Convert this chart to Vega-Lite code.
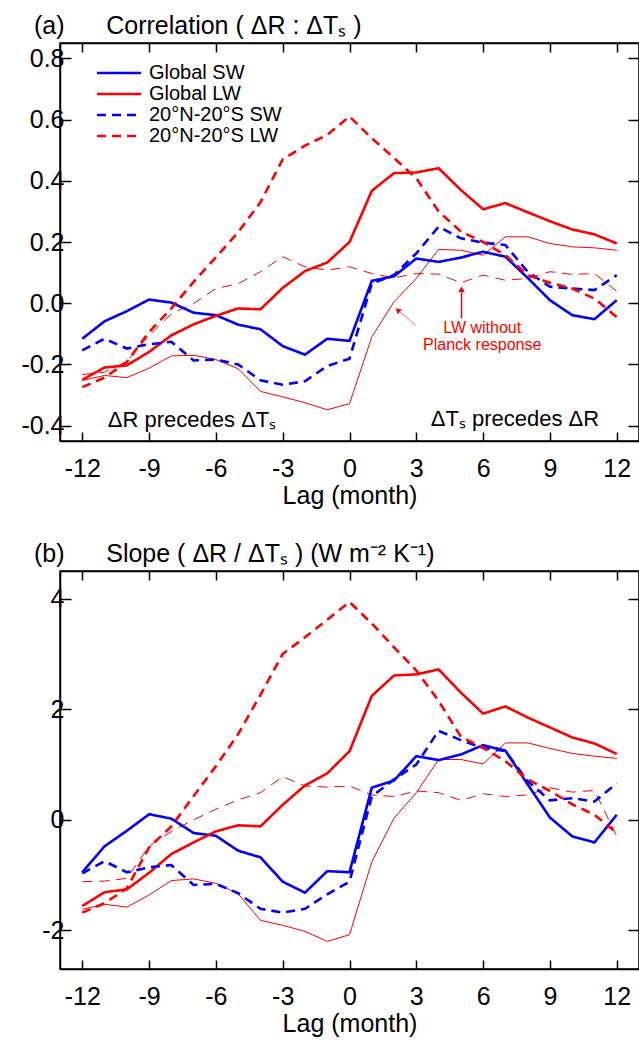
{
  "$schema": "https://vega.github.io/schema/vega-lite/v6.json",
  "padding": {"top": 13, "left": 20, "right": 0, "bottom": 0},
  "spacing": 32,
  "config": {
    "font": "Liberation Sans",
    "view": {"stroke": "black", "strokeWidth": 1.5},
    "locale": {"number": {"decimal": ".", "thousands": ",", "grouping": [3], "currency": ["$", ""], "minus": "-"}},
    "axis": {"domainColor": "black", "domainWidth": 1.5, "tickColor": "black", "tickWidth": 1.5, "grid": false, "labelFont": "Liberation Sans", "labelFontSize": 25, "labelColor": "black", "titleFont": "Liberation Sans", "titleFontSize": 25, "titleFontWeight": "normal", "titleColor": "black", "labelOverlap": false, "labelFlush": false},
    "title": {"font": "Liberation Sans", "fontSize": 25, "fontWeight": "normal", "color": "black", "anchor": "start", "frame": "group", "dx": -26, "offset": 3}
  },
  "datasets": {
    "lines": [
      {"lag": -12, "series": "Global SW", "corr": -0.116, "slope": -0.95},
      {"lag": -11, "series": "Global SW", "corr": -0.059, "slope": -0.48},
      {"lag": -10, "series": "Global SW", "corr": -0.026, "slope": -0.2},
      {"lag": -9, "series": "Global SW", "corr": 0.012, "slope": 0.1},
      {"lag": -8, "series": "Global SW", "corr": 0.002, "slope": 0.02},
      {"lag": -7, "series": "Global SW", "corr": -0.031, "slope": -0.24},
      {"lag": -6, "series": "Global SW", "corr": -0.039, "slope": -0.29},
      {"lag": -5, "series": "Global SW", "corr": -0.07, "slope": -0.56},
      {"lag": -4, "series": "Global SW", "corr": -0.085, "slope": -0.68},
      {"lag": -3, "series": "Global SW", "corr": -0.14, "slope": -1.12},
      {"lag": -2, "series": "Global SW", "corr": -0.168, "slope": -1.32},
      {"lag": -1, "series": "Global SW", "corr": -0.116, "slope": -0.93},
      {"lag": 0, "series": "Global SW", "corr": -0.123, "slope": -0.95},
      {"lag": 1, "series": "Global SW", "corr": 0.073, "slope": 0.58},
      {"lag": 2, "series": "Global SW", "corr": 0.088, "slope": 0.71},
      {"lag": 3, "series": "Global SW", "corr": 0.146, "slope": 1.15},
      {"lag": 4, "series": "Global SW", "corr": 0.135, "slope": 1.08},
      {"lag": 5, "series": "Global SW", "corr": 0.149, "slope": 1.18},
      {"lag": 6, "series": "Global SW", "corr": 0.168, "slope": 1.35},
      {"lag": 7, "series": "Global SW", "corr": 0.152, "slope": 1.25},
      {"lag": 8, "series": "Global SW", "corr": 0.083, "slope": 0.64},
      {"lag": 9, "series": "Global SW", "corr": 0.01, "slope": 0.04},
      {"lag": 10, "series": "Global SW", "corr": -0.039, "slope": -0.3},
      {"lag": 11, "series": "Global SW", "corr": -0.052, "slope": -0.41},
      {"lag": 12, "series": "Global SW", "corr": 0.01, "slope": 0.09},

      {"lag": -12, "series": "Global LW", "corr": -0.25, "slope": -1.56},
      {"lag": -11, "series": "Global LW", "corr": -0.21, "slope": -1.31},
      {"lag": -10, "series": "Global LW", "corr": -0.203, "slope": -1.26},
      {"lag": -9, "series": "Global LW", "corr": -0.159, "slope": -0.96},
      {"lag": -8, "series": "Global LW", "corr": -0.105, "slope": -0.62},
      {"lag": -7, "series": "Global LW", "corr": -0.069, "slope": -0.41},
      {"lag": -6, "series": "Global LW", "corr": -0.041, "slope": -0.21},
      {"lag": -5, "series": "Global LW", "corr": -0.017, "slope": -0.1},
      {"lag": -4, "series": "Global LW", "corr": -0.02, "slope": -0.12},
      {"lag": -3, "series": "Global LW", "corr": 0.05, "slope": 0.27},
      {"lag": -2, "series": "Global LW", "corr": 0.105, "slope": 0.62},
      {"lag": -1, "series": "Global LW", "corr": 0.133, "slope": 0.84},
      {"lag": 0, "series": "Global LW", "corr": 0.2, "slope": 1.24},
      {"lag": 1, "series": "Global LW", "corr": 0.367, "slope": 2.24},
      {"lag": 2, "series": "Global LW", "corr": 0.425, "slope": 2.61},
      {"lag": 3, "series": "Global LW", "corr": 0.427, "slope": 2.63},
      {"lag": 4, "series": "Global LW", "corr": 0.441, "slope": 2.72},
      {"lag": 5, "series": "Global LW", "corr": 0.37, "slope": 2.3},
      {"lag": 6, "series": "Global LW", "corr": 0.307, "slope": 1.92},
      {"lag": 7, "series": "Global LW", "corr": 0.327, "slope": 2.05},
      {"lag": 8, "series": "Global LW", "corr": 0.297, "slope": 1.85},
      {"lag": 9, "series": "Global LW", "corr": 0.268, "slope": 1.67},
      {"lag": 10, "series": "Global LW", "corr": 0.241, "slope": 1.49},
      {"lag": 11, "series": "Global LW", "corr": 0.225, "slope": 1.38},
      {"lag": 12, "series": "Global LW", "corr": 0.195, "slope": 1.19},

      {"lag": -12, "series": "20°N-20°S SW", "corr": -0.154, "slope": -0.97},
      {"lag": -11, "series": "20°N-20°S SW", "corr": -0.116, "slope": -0.75},
      {"lag": -10, "series": "20°N-20°S SW", "corr": -0.148, "slope": -0.95},
      {"lag": -9, "series": "20°N-20°S SW", "corr": -0.134, "slope": -0.86},
      {"lag": -8, "series": "20°N-20°S SW", "corr": -0.126, "slope": -0.82},
      {"lag": -7, "series": "20°N-20°S SW", "corr": -0.187, "slope": -1.18},
      {"lag": -6, "series": "20°N-20°S SW", "corr": -0.184, "slope": -1.16},
      {"lag": -5, "series": "20°N-20°S SW", "corr": -0.2, "slope": -1.33},
      {"lag": -4, "series": "20°N-20°S SW", "corr": -0.252, "slope": -1.61},
      {"lag": -3, "series": "20°N-20°S SW", "corr": -0.266, "slope": -1.68},
      {"lag": -2, "series": "20°N-20°S SW", "corr": -0.255, "slope": -1.61},
      {"lag": -1, "series": "20°N-20°S SW", "corr": -0.205, "slope": -1.35},
      {"lag": 0, "series": "20°N-20°S SW", "corr": -0.181, "slope": -1.12},
      {"lag": 1, "series": "20°N-20°S SW", "corr": 0.064, "slope": 0.42},
      {"lag": 2, "series": "20°N-20°S SW", "corr": 0.092, "slope": 0.73},
      {"lag": 3, "series": "20°N-20°S SW", "corr": 0.163, "slope": 1.0},
      {"lag": 4, "series": "20°N-20°S SW", "corr": 0.25, "slope": 1.61},
      {"lag": 5, "series": "20°N-20°S SW", "corr": 0.212, "slope": 1.44},
      {"lag": 6, "series": "20°N-20°S SW", "corr": 0.198, "slope": 1.3},
      {"lag": 7, "series": "20°N-20°S SW", "corr": 0.19, "slope": 1.24},
      {"lag": 8, "series": "20°N-20°S SW", "corr": 0.103, "slope": 0.7},
      {"lag": 9, "series": "20°N-20°S SW", "corr": 0.054, "slope": 0.35},
      {"lag": 10, "series": "20°N-20°S SW", "corr": 0.048, "slope": 0.39},
      {"lag": 11, "series": "20°N-20°S SW", "corr": 0.043, "slope": 0.33},
      {"lag": 12, "series": "20°N-20°S SW", "corr": 0.092, "slope": 0.66},

      {"lag": -12, "series": "20°N-20°S LW", "corr": -0.274, "slope": -1.68},
      {"lag": -11, "series": "20°N-20°S LW", "corr": -0.243, "slope": -1.51},
      {"lag": -10, "series": "20°N-20°S LW", "corr": -0.192, "slope": -1.24},
      {"lag": -9, "series": "20°N-20°S LW", "corr": -0.094, "slope": -0.5},
      {"lag": -8, "series": "20°N-20°S LW", "corr": -0.017, "slope": -0.12},
      {"lag": -7, "series": "20°N-20°S LW", "corr": 0.07, "slope": 0.43},
      {"lag": -6, "series": "20°N-20°S LW", "corr": 0.15, "slope": 0.97},
      {"lag": -5, "series": "20°N-20°S LW", "corr": 0.232, "slope": 1.55},
      {"lag": -4, "series": "20°N-20°S LW", "corr": 0.33, "slope": 2.26},
      {"lag": -3, "series": "20°N-20°S LW", "corr": 0.47, "slope": 3.0},
      {"lag": -2, "series": "20°N-20°S LW", "corr": 0.515, "slope": 3.3},
      {"lag": -1, "series": "20°N-20°S LW", "corr": 0.55, "slope": 3.62},
      {"lag": 0, "series": "20°N-20°S LW", "corr": 0.61, "slope": 3.94},
      {"lag": 1, "series": "20°N-20°S LW", "corr": 0.539, "slope": 3.55},
      {"lag": 2, "series": "20°N-20°S LW", "corr": 0.474, "slope": 3.12},
      {"lag": 3, "series": "20°N-20°S LW", "corr": 0.408, "slope": 2.7},
      {"lag": 4, "series": "20°N-20°S LW", "corr": 0.3, "slope": 2.15},
      {"lag": 5, "series": "20°N-20°S LW", "corr": 0.234, "slope": 1.5},
      {"lag": 6, "series": "20°N-20°S LW", "corr": 0.2, "slope": 1.3},
      {"lag": 7, "series": "20°N-20°S LW", "corr": 0.157, "slope": 1.06},
      {"lag": 8, "series": "20°N-20°S LW", "corr": 0.092, "slope": 0.73},
      {"lag": 9, "series": "20°N-20°S LW", "corr": 0.067, "slope": 0.52},
      {"lag": 10, "series": "20°N-20°S LW", "corr": 0.048, "slope": 0.28},
      {"lag": 11, "series": "20°N-20°S LW", "corr": 0.015, "slope": 0.09},
      {"lag": 12, "series": "20°N-20°S LW", "corr": -0.045, "slope": -0.24},

      {"lag": -12, "series": "Global LW no Planck", "corr": -0.252, "slope": -1.62},
      {"lag": -11, "series": "Global LW no Planck", "corr": -0.236, "slope": -1.53},
      {"lag": -10, "series": "Global LW no Planck", "corr": -0.243, "slope": -1.58},
      {"lag": -9, "series": "Global LW no Planck", "corr": -0.212, "slope": -1.36},
      {"lag": -8, "series": "Global LW no Planck", "corr": -0.172, "slope": -1.1},
      {"lag": -7, "series": "Global LW no Planck", "corr": -0.17, "slope": -1.07},
      {"lag": -6, "series": "Global LW no Planck", "corr": -0.184, "slope": -1.15},
      {"lag": -5, "series": "Global LW no Planck", "corr": -0.214, "slope": -1.34},
      {"lag": -4, "series": "Global LW no Planck", "corr": -0.288, "slope": -1.82},
      {"lag": -3, "series": "Global LW no Planck", "corr": -0.306, "slope": -1.91},
      {"lag": -2, "series": "Global LW no Planck", "corr": -0.325, "slope": -2.02},
      {"lag": -1, "series": "Global LW no Planck", "corr": -0.348, "slope": -2.2},
      {"lag": 0, "series": "Global LW no Planck", "corr": -0.328, "slope": -2.08},
      {"lag": 1, "series": "Global LW no Planck", "corr": -0.11, "slope": -0.76},
      {"lag": 2, "series": "Global LW no Planck", "corr": 0.005, "slope": 0.03},
      {"lag": 3, "series": "Global LW no Planck", "corr": 0.081, "slope": 0.49},
      {"lag": 4, "series": "Global LW no Planck", "corr": 0.176, "slope": 1.09},
      {"lag": 5, "series": "Global LW no Planck", "corr": 0.173, "slope": 1.09},
      {"lag": 6, "series": "Global LW no Planck", "corr": 0.157, "slope": 1.01},
      {"lag": 7, "series": "Global LW no Planck", "corr": 0.217, "slope": 1.39},
      {"lag": 8, "series": "Global LW no Planck", "corr": 0.217, "slope": 1.39},
      {"lag": 9, "series": "Global LW no Planck", "corr": 0.195, "slope": 1.29},
      {"lag": 10, "series": "Global LW no Planck", "corr": 0.184, "slope": 1.2},
      {"lag": 11, "series": "Global LW no Planck", "corr": 0.181, "slope": 1.15},
      {"lag": 12, "series": "Global LW no Planck", "corr": 0.173, "slope": 1.11},

      {"lag": -12, "series": "20°N-20°S LW no Planck", "corr": -0.233, "slope": -1.12},
      {"lag": -11, "series": "20°N-20°S LW no Planck", "corr": -0.225, "slope": -1.11},
      {"lag": -10, "series": "20°N-20°S LW no Planck", "corr": -0.19, "slope": -1.06},
      {"lag": -9, "series": "20°N-20°S LW no Planck", "corr": -0.105, "slope": -0.48},
      {"lag": -8, "series": "20°N-20°S LW no Planck", "corr": -0.034, "slope": -0.21},
      {"lag": -7, "series": "20°N-20°S LW no Planck", "corr": -0.001, "slope": 0.0},
      {"lag": -6, "series": "20°N-20°S LW no Planck", "corr": 0.048, "slope": 0.19},
      {"lag": -5, "series": "20°N-20°S LW no Planck", "corr": 0.064, "slope": 0.36},
      {"lag": -4, "series": "20°N-20°S LW no Planck", "corr": 0.103, "slope": 0.49},
      {"lag": -3, "series": "20°N-20°S LW no Planck", "corr": 0.152, "slope": 0.78},
      {"lag": -2, "series": "20°N-20°S LW no Planck", "corr": 0.119, "slope": 0.61},
      {"lag": -1, "series": "20°N-20°S LW no Planck", "corr": 0.108, "slope": 0.59},
      {"lag": 0, "series": "20°N-20°S LW no Planck", "corr": 0.119, "slope": 0.61},
      {"lag": 1, "series": "20°N-20°S LW no Planck", "corr": 0.097, "slope": 0.45},
      {"lag": 2, "series": "20°N-20°S LW no Planck", "corr": 0.083, "slope": 0.42},
      {"lag": 3, "series": "20°N-20°S LW no Planck", "corr": 0.097, "slope": 0.52},
      {"lag": 4, "series": "20°N-20°S LW no Planck", "corr": 0.095, "slope": 0.49},
      {"lag": 5, "series": "20°N-20°S LW no Planck", "corr": 0.067, "slope": 0.35},
      {"lag": 6, "series": "20°N-20°S LW no Planck", "corr": 0.092, "slope": 0.47},
      {"lag": 7, "series": "20°N-20°S LW no Planck", "corr": 0.075, "slope": 0.42},
      {"lag": 8, "series": "20°N-20°S LW no Planck", "corr": 0.081, "slope": 0.45},
      {"lag": 9, "series": "20°N-20°S LW no Planck", "corr": 0.103, "slope": 0.58},
      {"lag": 10, "series": "20°N-20°S LW no Planck", "corr": 0.094, "slope": 0.5},
      {"lag": 11, "series": "20°N-20°S LW no Planck", "corr": 0.097, "slope": 0.53},
      {"lag": 12, "series": "20°N-20°S LW no Planck", "corr": 0.039, "slope": -0.3}
    ]
  },
  "resolve": {"scale": {"color": "independent", "strokeDash": "independent"}, "legend": {"color": "independent", "strokeDash": "independent"}},
  "vconcat": [
    {
      "width": 579,
      "height": 398,
      "title": {"text": "(a)\u00a0\u00a0\u00a0\u00a0\u00a0\u00a0Correlation ( ΔR : ΔTₛ )"},
      "layer": [
        {
          "mark": {"type": "rule", "color": "#808080", "strokeDash": [2, 3], "strokeWidth": 1.3},
          "encoding": {"y": {"datum": 0, "type": "quantitative", "scale": {"domain": [-0.45, 0.85], "nice": false, "zero": false}, "axis": {"orient": "right", "values": [-0.4, -0.2, 0, 0.2, 0.4, 0.6, 0.8], "labels": false, "tickSize": -11, "title": null}}}
        },
        {
          "mark": {"type": "rule", "color": "#808080", "strokeDash": [2, 3], "strokeWidth": 1.3},
          "encoding": {"x": {"datum": 0, "type": "quantitative", "scale": {"domain": [-13, 13], "nice": false, "zero": false}, "axis": {"orient": "top", "values": [-12, -9, -6, -3, 0, 3, 6, 9, 12], "labels": false, "tickSize": -9, "title": null}}}
        },
        {
          "data": {"name": "lines"},
          "transform": [{"filter": "datum.series == 'Global LW no Planck'"}],
          "mark": {"type": "line", "color": "#ff0000", "strokeWidth": 1},
          "encoding": {
            "x": {"field": "lag", "type": "quantitative", "scale": {"domain": [-13, 13], "nice": false, "zero": false}, "axis": null},
            "y": {"field": "corr", "type": "quantitative", "scale": {"domain": [-0.45, 0.85], "nice": false, "zero": false}, "axis": null}
          }
        },
        {
          "data": {"name": "lines"},
          "transform": [{"filter": "datum.series == '20°N-20°S LW no Planck'"}],
          "mark": {"type": "line", "color": "#ff0000", "strokeWidth": 1, "strokeDash": [10, 7]},
          "encoding": {
            "x": {"field": "lag", "type": "quantitative", "scale": {"domain": [-13, 13], "nice": false, "zero": false}, "axis": null},
            "y": {"field": "corr", "type": "quantitative", "scale": {"domain": [-0.45, 0.85], "nice": false, "zero": false}, "axis": null}
          }
        },
        {
          "data": {"name": "lines"},
          "transform": [{"filter": {"field": "series", "oneOf": ["Global SW", "Global LW", "20°N-20°S SW", "20°N-20°S LW"]}}],
          "mark": {"type": "line", "strokeWidth": 2.6},
          "encoding": {
            "x": {"field": "lag", "type": "quantitative", "scale": {"domain": [-13, 13], "nice": false, "zero": false}, "axis": {"orient": "bottom", "values": [-12, -9, -6, -3, 0, 3, 6, 9, 12], "tickSize": -9, "labelPadding": 24, "title": "Lag (month)", "titlePadding": 2}},
            "y": {"field": "corr", "type": "quantitative", "scale": {"domain": [-0.45, 0.85], "nice": false, "zero": false}, "axis": {"orient": "left", "values": [-0.4, -0.2, 0, 0.2, 0.4, 0.6, 0.8], "format": ".1f", "tickSize": -11, "labelPadding": 7, "title": null}},
            "color": {"field": "series", "type": "nominal", "scale": {"domain": ["Global SW", "Global LW", "20°N-20°S SW", "20°N-20°S LW"], "range": ["#0000ff", "#ff0000", "#0000ff", "#ff0000"]},
              "legend": {"orient": "none", "legendX": 49, "legendY": 20, "title": null, "symbolType": "M-4.4,0L4.4,0", "symbolSize": 100, "symbolStrokeWidth": 2.5, "labelFontSize": 20, "labelFont": "Liberation Sans", "labelColor": "black", "rowPadding": 1, "padding": 0, "labelOffset": 20}},
            "strokeDash": {"field": "series", "type": "nominal", "scale": {"domain": ["Global SW", "Global LW", "20°N-20°S SW", "20°N-20°S LW"], "range": [[1, 0], [1, 0], [9, 6], [9, 6]]},
              "legend": {"orient": "none", "legendX": 49, "legendY": 20, "title": null, "symbolType": "M-4.4,0L4.4,0", "symbolSize": 100, "symbolStrokeWidth": 2.5, "labelFontSize": 20, "labelFont": "Liberation Sans", "labelColor": "black", "rowPadding": 1, "padding": 0, "labelOffset": 20}}
          }
        },
        {
          "data": {"values": [
            {"lag": -7.07, "val": -0.404, "label": "ΔR precedes ΔTₛ"},
            {"lag": 7.43, "val": -0.4, "label": "ΔTₛ precedes ΔR"}
          ]},
          "mark": {"type": "text", "fontSize": 22, "color": "black", "align": "center", "baseline": "alphabetic"},
          "encoding": {
            "x": {"field": "lag", "type": "quantitative", "scale": {"domain": [-13, 13], "nice": false, "zero": false}, "axis": null},
            "y": {"field": "val", "type": "quantitative", "scale": {"domain": [-0.45, 0.85], "nice": false, "zero": false}, "axis": null},
            "text": {"field": "label"}
          }
        },
        {
          "data": {"values": [
            {"lag": 5.96, "val": -0.097, "label": "LW without|Planck response"}
          ]},
          "mark": {"type": "text", "fontSize": 16, "color": "#ff0000", "align": "center", "baseline": "alphabetic", "lineBreak": "|", "lineHeight": 17},
          "encoding": {
            "x": {"field": "lag", "type": "quantitative", "scale": {"domain": [-13, 13], "nice": false, "zero": false}, "axis": null},
            "y": {"field": "val", "type": "quantitative", "scale": {"domain": [-0.45, 0.85], "nice": false, "zero": false}, "axis": null},
            "text": {"field": "label"}
          }
        },
        {
          "data": {"values": [{"lag": 5.03, "val": -0.05, "lag2": 5.03, "val2": 0.035}]},
          "mark": {"type": "rule", "color": "#ff0000", "strokeWidth": 1.5},
          "encoding": {
            "x": {"field": "lag", "type": "quantitative", "scale": {"domain": [-13, 13], "nice": false, "zero": false}, "axis": null},
            "y": {"field": "val", "type": "quantitative", "scale": {"domain": [-0.45, 0.85], "nice": false, "zero": false}, "axis": null},
            "x2": {"field": "lag2"},
            "y2": {"field": "val2"}
          }
        },
        {
          "data": {"values": [{"lag": 5.03, "val": 0.045}]},
          "mark": {"type": "point", "shape": "triangle-up", "filled": true, "color": "#ff0000", "size": 45, "opacity": 1},
          "encoding": {
            "x": {"field": "lag", "type": "quantitative", "scale": {"domain": [-13, 13], "nice": false, "zero": false}, "axis": null},
            "y": {"field": "val", "type": "quantitative", "scale": {"domain": [-0.45, 0.85], "nice": false, "zero": false}, "axis": null}
          }
        },
        {
          "data": {"values": [{"lag": 2.97, "val": -0.072, "lag2": 2.14, "val2": -0.02}]},
          "mark": {"type": "rule", "color": "#ff0000", "strokeWidth": 0.8, "opacity": 0.7},
          "encoding": {
            "x": {"field": "lag", "type": "quantitative", "scale": {"domain": [-13, 13], "nice": false, "zero": false}, "axis": null},
            "y": {"field": "val", "type": "quantitative", "scale": {"domain": [-0.45, 0.85], "nice": false, "zero": false}, "axis": null},
            "x2": {"field": "lag2"},
            "y2": {"field": "val2"}
          }
        },
        {
          "data": {"values": [{"lag": 2.16, "val": -0.022}]},
          "mark": {"type": "point", "shape": "triangle-up", "filled": true, "color": "#ff0000", "size": 40, "angle": 311, "opacity": 1},
          "encoding": {
            "x": {"field": "lag", "type": "quantitative", "scale": {"domain": [-13, 13], "nice": false, "zero": false}, "axis": null},
            "y": {"field": "val", "type": "quantitative", "scale": {"domain": [-0.45, 0.85], "nice": false, "zero": false}, "axis": null}
          }
        }
      ],
      "resolve": {"axis": {"x": "independent", "y": "independent"}}
    },
    {
      "width": 579,
      "height": 398,
      "title": {"text": "(b)\u00a0\u00a0\u00a0\u00a0\u00a0\u00a0Slope ( ΔR / ΔTₛ ) (W m⁻² K⁻¹)"},
      "layer": [
        {
          "mark": {"type": "rule", "color": "#808080", "strokeDash": [2, 3], "strokeWidth": 1.3},
          "encoding": {"y": {"datum": 0, "type": "quantitative", "scale": {"domain": [-2.7, 4.5], "nice": false, "zero": false}, "axis": {"orient": "right", "values": [-2, 0, 2, 4], "labels": false, "tickSize": -11, "title": null}}}
        },
        {
          "mark": {"type": "rule", "color": "#808080", "strokeDash": [2, 3], "strokeWidth": 1.3},
          "encoding": {"x": {"datum": 0, "type": "quantitative", "scale": {"domain": [-13, 13], "nice": false, "zero": false}, "axis": {"orient": "top", "values": [-12, -9, -6, -3, 0, 3, 6, 9, 12], "labels": false, "tickSize": -9, "title": null}}}
        },
        {
          "data": {"name": "lines"},
          "transform": [{"filter": "datum.series == 'Global LW no Planck'"}],
          "mark": {"type": "line", "color": "#ff0000", "strokeWidth": 1},
          "encoding": {
            "x": {"field": "lag", "type": "quantitative", "scale": {"domain": [-13, 13], "nice": false, "zero": false}, "axis": null},
            "y": {"field": "slope", "type": "quantitative", "scale": {"domain": [-2.7, 4.5], "nice": false, "zero": false}, "axis": null}
          }
        },
        {
          "data": {"name": "lines"},
          "transform": [{"filter": "datum.series == '20°N-20°S LW no Planck'"}],
          "mark": {"type": "line", "color": "#ff0000", "strokeWidth": 1, "strokeDash": [10, 7]},
          "encoding": {
            "x": {"field": "lag", "type": "quantitative", "scale": {"domain": [-13, 13], "nice": false, "zero": false}, "axis": null},
            "y": {"field": "slope", "type": "quantitative", "scale": {"domain": [-2.7, 4.5], "nice": false, "zero": false}, "axis": null}
          }
        },
        {
          "data": {"name": "lines"},
          "transform": [{"filter": {"field": "series", "oneOf": ["Global SW", "Global LW", "20°N-20°S SW", "20°N-20°S LW"]}}],
          "mark": {"type": "line", "strokeWidth": 2.6},
          "encoding": {
            "x": {"field": "lag", "type": "quantitative", "scale": {"domain": [-13, 13], "nice": false, "zero": false}, "axis": {"orient": "bottom", "values": [-12, -9, -6, -3, 0, 3, 6, 9, 12], "tickSize": -9, "labelPadding": 24, "title": "Lag (month)", "titlePadding": 2}},
            "y": {"field": "slope", "type": "quantitative", "scale": {"domain": [-2.7, 4.5], "nice": false, "zero": false}, "axis": {"orient": "left", "values": [-2, 0, 2, 4], "format": "d", "tickSize": -11, "labelPadding": 7, "title": null}},
            "color": {"field": "series", "type": "nominal", "scale": {"domain": ["Global SW", "Global LW", "20°N-20°S SW", "20°N-20°S LW"], "range": ["#0000ff", "#ff0000", "#0000ff", "#ff0000"]}, "legend": null},
            "strokeDash": {"field": "series", "type": "nominal", "scale": {"domain": ["Global SW", "Global LW", "20°N-20°S SW", "20°N-20°S LW"], "range": [[1, 0], [1, 0], [9, 6], [9, 6]]}, "legend": null}
          }
        }
      ],
      "resolve": {"axis": {"x": "independent", "y": "independent"}}
    }
  ]
}
